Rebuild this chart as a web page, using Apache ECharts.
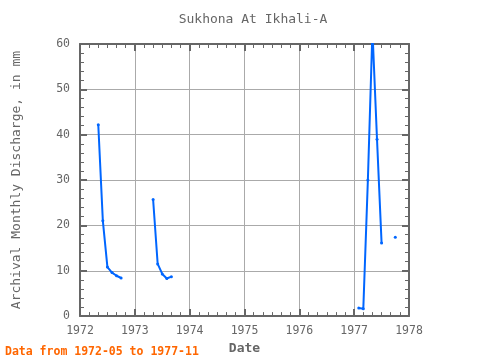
<!DOCTYPE html>
<html>
<head>
<meta charset="utf-8">
<script src="https://cdn.jsdelivr.net/npm/echarts@6/dist/echarts.min.js"></script>
<style>html,body{margin:0;padding:0;background:#fff}#c{width:480px;height:360px}</style>
</head>
<body>
<div id="c"></div>
<script>
// Monthly records (null = gap)
var months = ['1972-05','1972-06','1972-07','1972-08','1972-09','1972-10','1972-11',
              '1973-05','1973-06','1973-07','1973-08','1973-09','1973-10',
              '1977-02','1977-03','1977-04','1977-05','1977-06','1977-07','1977-08','1977-09','1977-10','1977-11'];
var discharge = [42.2, 21, 10.8, 9.6, 8.9, 8.4, null,
                 25.7, 11.5, 9.3, 8.3, 8.7, null,
                 1.8, 1.6, 30, 63, 39, 16.1, null, null, 17.4, null];
var xTicks = [1972, 1973, 1974, 1975, 1976, 1977, 1978];
var yTicks = [0, 10, 20, 30, 40, 50, 60];
var titleText = 'Sukhona At Ikhali-A';
var yName = 'Archival Monthly Discharge, in mm';
var xName = 'Date';
var note = 'Data from 1972-05 to 1977-11';

function toYear(s){ var p = s.split('-'); return +p[0] + (+p[1] - 1) / 12; }
var seriesData = months.map(function(m, i){ return [toYear(m), discharge[i]]; });

var FONT = 'DejaVu Sans Mono';
var AX = '#666666';
var chart = echarts.init(document.getElementById('c'), null, {renderer: 'canvas'});
function xAxisBase(pos, showLabel){
  return {
    type: 'value', position: pos, min: xTicks[0], max: xTicks[xTicks.length-1], interval: 1,
    axisLine: {show: true, onZero: false, lineStyle: {color: AX, width: 2}},
    axisTick: {show: true, inside: true, length: 7, lineStyle: {color: AX, width: 2}},
    minorTick: {show: true, splitNumber: 6, length: 4, lineStyle: {color: AX, width: 1}},
    splitLine: {show: showLabel, lineStyle: {color: '#aaaaaa', width: 1}},
    axisLabel: {show: showLabel, margin: 9, color: AX, fontFamily: FONT, fontSize: 11.5,
                formatter: function(v){ return String(v); }}
  };
}
function yAxisBase(pos, showLabel){
  return {
    type: 'value', position: pos, min: yTicks[0], max: yTicks[yTicks.length-1], interval: 10,
    axisLine: {show: true, onZero: false, lineStyle: {color: AX, width: 2}},
    axisTick: {show: true, inside: true, length: 7, lineStyle: {color: AX, width: 2}},
    minorTick: {show: true, splitNumber: 5, length: 4, lineStyle: {color: AX, width: 1}},
    splitLine: {show: showLabel, lineStyle: {color: '#aaaaaa', width: 1}},
    axisLabel: {show: showLabel, margin: 10, color: AX, fontFamily: FONT, fontSize: 11.5}
  };
}
var xa = xAxisBase('bottom', true);
xa.name = xName; xa.nameLocation = 'middle'; xa.nameGap = 20;
xa.nameTextStyle = {color: AX, fontFamily: FONT, fontSize: 13, fontWeight: 'bold'};
var xb = xAxisBase('top', false);
var ya = yAxisBase('left', true);
ya.name = yName; ya.nameLocation = 'middle'; ya.nameGap = 57;
ya.nameTextStyle = {color: AX, fontFamily: FONT, fontSize: 13};
var yb = yAxisBase('right', false);

chart.setOption({
  animation: false,
  title: {text: titleText, left: 248, top: 8, textAlign: 'center',
          textStyle: {color: AX, fontFamily: FONT, fontSize: 13, fontWeight: 'normal'}},
  grid: {left: 80, right: 71, top: 44, bottom: 39, containLabel: false},
  xAxis: [xa, xb],
  yAxis: [ya, yb],
  series: [{
    type: 'line', xAxisIndex: 0, yAxisIndex: 0, data: seriesData,
    connectNulls: false, clip: true,
    symbol: 'circle', symbolSize: 3, showSymbol: true,
    lineStyle: {color: '#0066ff', width: 2},
    itemStyle: {color: '#0066ff'}
  }],
  graphic: [{type: 'text', left: 5, top: 346,
             style: {text: note, fill: '#ff6600', font: 'bold 11.5px "' + FONT + '"'}}]
});
</script>
</body>
</html>
